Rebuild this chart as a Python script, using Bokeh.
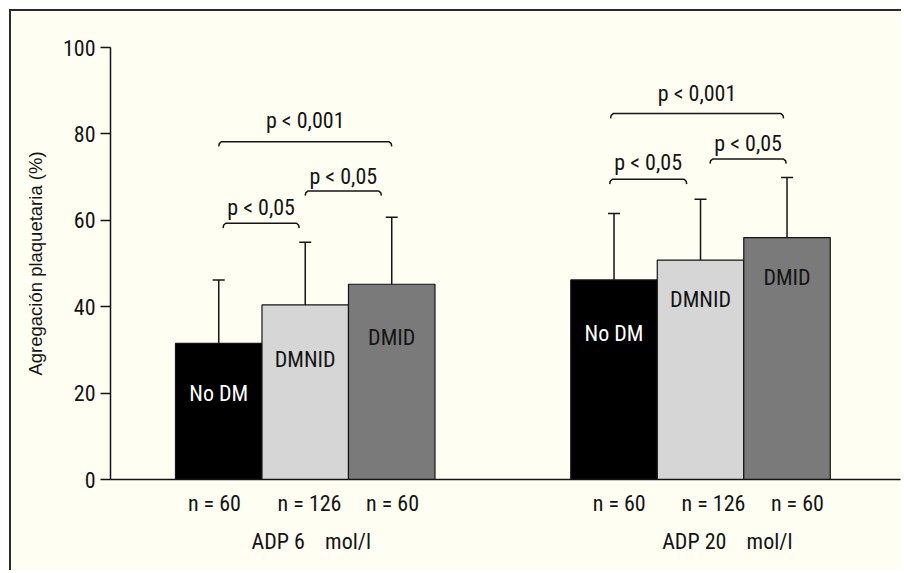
from bokeh.plotting import figure
from bokeh.models import (ColumnDataSource, FixedTicker, LinearAxis, Range1d,
                          Whisker, TeeHead)
from bokeh.core.properties import value
from bokeh.embed import file_html
from bokeh.resources import INLINE

# ---------------- data ----------------
categories = ["No DM", "DMNID", "DMID"]
groups = ["ADP 6\u00a0\u00a0\u00a0 mol/l", "ADP 20\u00a0\u00a0\u00a0 mol/l"]
n_labels = ["n = 60", "n = 126", "n = 60"]
mean_adp6 = [31.5, 40.4, 45.2]
sd_adp6 = [14.7, 14.5, 15.5]
mean_adp20 = [46.2, 50.8, 56.0]
sd_adp20 = [15.4, 14.1, 13.9]
y_ticks = [0, 20, 40, 60, 80, 100]
p_labels = ["p < 0,001", "p < 0,05", "p < 0,05", "p < 0,001", "p < 0,05", "p < 0,05"]

# ---------------- layout / style ----------------
FONT = "'Liberation Sans Narrow', 'Arial Narrow', 'Roboto Condensed', Roboto"
LABEL_FONT = "'Liberation Sans', Arial, sans-serif"
INK = "#141414"
BG = "#fefef3"
colors = ["#000000", "#d6d6d6", "#7a7a7a"]
label_colors = ["#ffffff", "#141414", "#141414"]
group_start = [1.0, 5.57]
label_drop = [[13.2, 14.2, 14.0], [14.1, 10.8, 10.8]]
n_shift = [[-0.05, 0.05, 0.01], [0.06, 0.15, 0.12]]
group_label_shift = [0.07, 0.31]
TEXT_SHIFT = -7
# brackets: group, start (bar-index units), end, height, text baseline
br_group = [0, 0, 0, 1, 1, 1]
br_start = [0.0, 0.05, 1.0, -0.04, -0.05, 1.11]
br_end = [2.0, 0.93, 1.88, 1.96, 0.84, 1.99]
br_y = [78.2, 59.3, 66.8, 84.7, 69.5, 74.2]
br_text_y = [81.5, 61.4, 68.5, 87.7, 71.8, 76.1]

means = [mean_adp6, mean_adp20]
sds = [sd_adp6, sd_adp20]

xs, tops, uppers, fills, lab_y, lab_c, lab_t = [], [], [], [], [], [], []
n_ticks, n_over = [], {}
for g in range(2):
    for i in range(3):
        x = group_start[g] + i
        xs.append(x)
        tops.append(means[g][i])
        uppers.append(means[g][i] + sds[g][i])
        fills.append(colors[i])
        lab_y.append(means[g][i] - label_drop[g][i])
        lab_c.append(label_colors[i])
        lab_t.append(categories[i])
        t = round(x + n_shift[g][i], 3)
        n_ticks.append(t)
        n_over[t] = n_labels[i]

src = ColumnDataSource(dict(x=xs, top=tops, upper=uppers, fill=fills,
                            ly=lab_y, lc=lab_c, lt=lab_t))

p = figure(width=892, height=561, output_backend="svg", toolbar_location=None,
           x_range=Range1d(-0.2514, 8.882), y_range=Range1d(0, 100),
           min_border_left=99, min_border_right=3, min_border_top=36,
           min_border_bottom=93, background_fill_color=BG,
           border_fill_color=BG, outline_line_color=None, x_axis_type=None)
p.styles = {"margin-left": "9px", "margin-top": "9px",
            "border-left": "2px solid #2a2a2a", "border-top": "2px solid #2a2a2a"}
p.grid.visible = False

p.vbar(x="x", top="top", bottom=0, width=1.0, fill_color="fill",
       line_color=INK, line_width=1.2, source=src)

wh = Whisker(source=src, base="x", lower="top", upper="upper",
             line_color=INK, line_width=1.5,
             upper_head=TeeHead(size=12, line_color=INK, line_width=1.5),
             lower_head=None)
p.add_layout(wh)

p.text(x="x", y="ly", text="lt", text_color="lc", source=src,
       text_font=value(FONT), text_font_size="22px", text_align="center",
       text_baseline="alphabetic", y_offset=TEXT_SHIFT)

# brackets
bxs, bys, tx, ty = [], [], [], []
for k in range(len(br_y)):
    g0 = group_start[br_group[k]]
    x0, x1, y = g0 + br_start[k], g0 + br_end[k], br_y[k]
    bxs.append([x0, x0 + 0.006, x0 + 0.03, x1 - 0.03, x1 - 0.006, x1])
    bys.append([y - 1.1, y - 0.45, y, y, y - 0.45, y - 1.1])
    tx.append((x0 + x1) / 2)
    ty.append(br_text_y[k])
p.multi_line(xs=bxs, ys=bys, line_color=INK, line_width=1.5)
p.text(x=tx, y=ty, text=p_labels, text_color=INK, text_font=value(FONT),
       text_font_size="22px", text_align="center", text_baseline="alphabetic",
       y_offset=TEXT_SHIFT)

# y axis
ya = p.yaxis[0]
ya.ticker = FixedTicker(ticks=y_ticks)
ya.axis_label = "Agregación plaquetaria (%)"
ya.axis_label_text_font = LABEL_FONT
ya.axis_label_text_font_size = "18.5px"
ya.axis_label_text_font_style = "normal"
ya.axis_label_text_color = INK
ya.axis_label_standoff = 14
ya.major_label_text_font = FONT
ya.major_label_text_font_size = "22px"
ya.major_label_text_color = INK
ya.major_label_standoff = 5
ya.major_tick_out = 10
ya.major_tick_in = 0
ya.minor_tick_line_color = None
ya.axis_line_width = 1.5
ya.axis_line_color = INK
ya.major_tick_line_width = 1.5
ya.major_tick_line_color = INK

# x axis with n labels
xa = LinearAxis(ticker=FixedTicker(ticks=n_ticks), major_label_overrides=n_over)
xa.major_tick_in = 0
xa.major_tick_out = 0
xa.minor_tick_line_color = None
xa.axis_line_width = 1.5
xa.axis_line_color = INK
xa.major_label_text_font = FONT
xa.major_label_text_font_size = "22px"
xa.major_label_text_color = INK
xa.major_label_standoff = 11
p.add_layout(xa, "below")

# group labels axis
g_ticks = [round(group_start[g] + 1 + group_label_shift[g], 3) for g in range(2)]
ga = LinearAxis(ticker=FixedTicker(ticks=g_ticks),
                major_label_overrides={g_ticks[g]: groups[g] for g in range(2)})
ga.axis_line_color = None
ga.major_tick_line_color = None
ga.minor_tick_line_color = None
ga.major_label_text_font = FONT
ga.major_label_text_font_size = "22px"
ga.major_label_text_color = INK
ga.major_label_standoff = 4
p.add_layout(ga, "below")

open("out.html", "w").write(file_html(p, INLINE))
